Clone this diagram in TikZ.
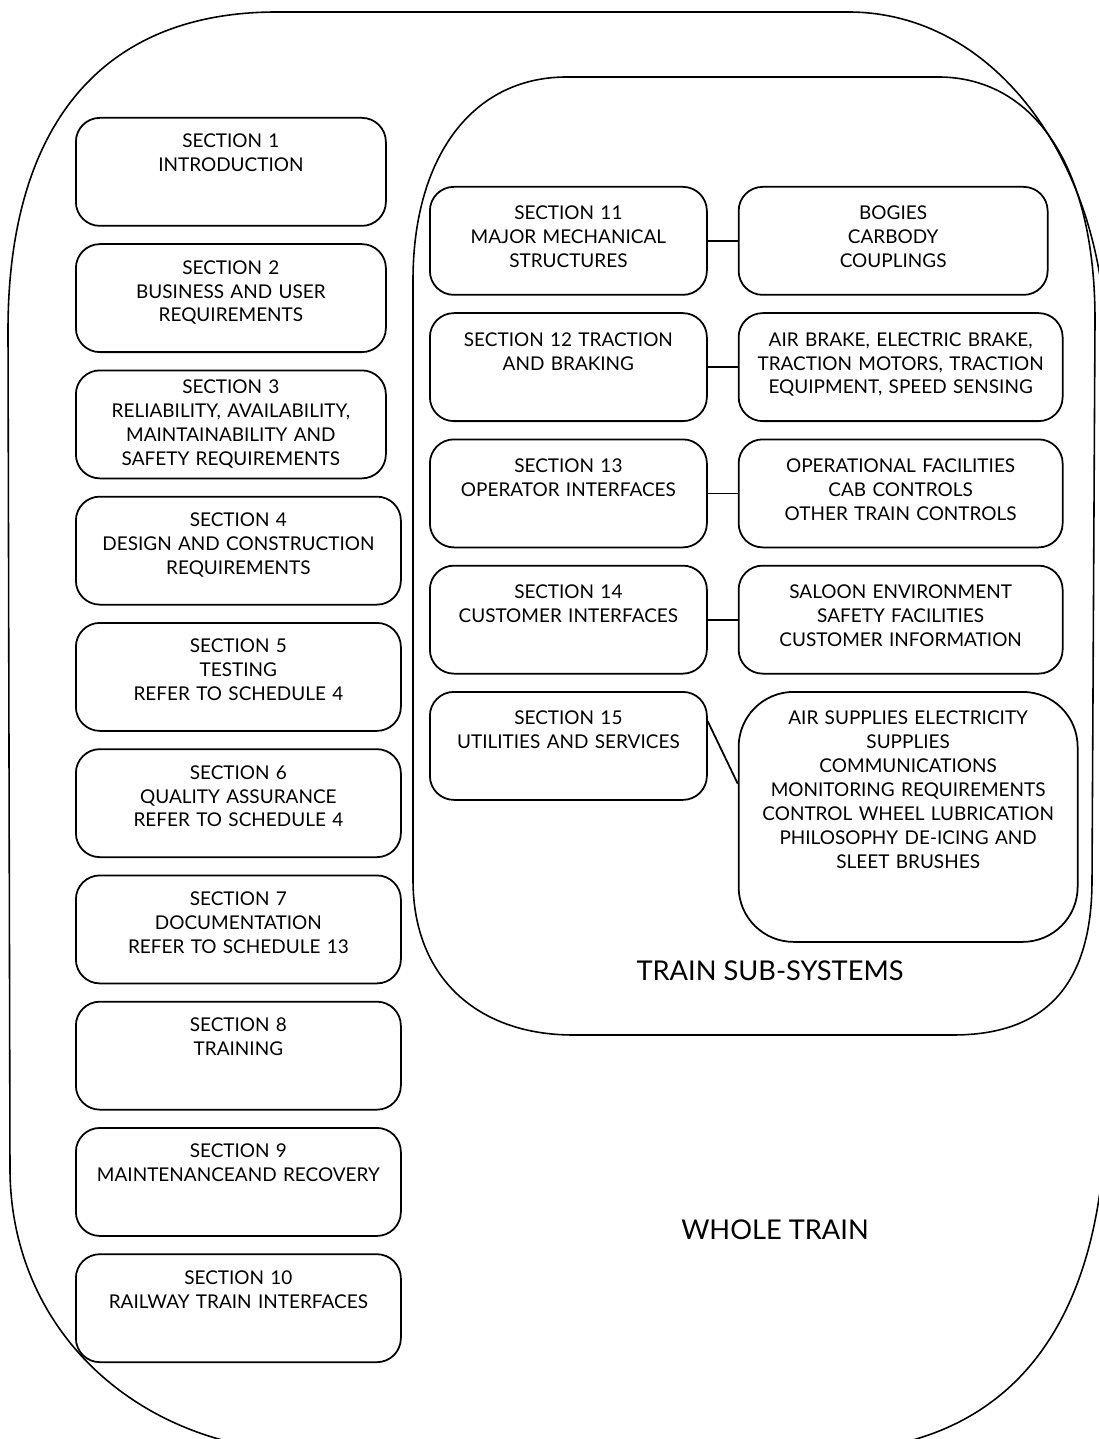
\documentclass[tikz,border=0pt]{standalone}
\usepackage{fontspec}
\setmainfont{Lato}
\usepackage{tikz}
\usetikzlibrary{positioning}

\tikzset{
  sec/.style={draw, line width=1pt, rounded corners=0.48cm, inner sep=0pt, align=center,
    text width=#1, text height=0.6cm, text depth=1.56cm, font=\fontsize{10.8}{13.6}\selectfont},
  sub/.style={sec=#1, text height=0.66cm, text depth=1.5cm},
  link/.style={line width=1pt},
  region/.style={line width=0.9pt},
  title/.style={font=\fontsize{15.5}{18}\selectfont}
}

\begin{document}
\begin{tikzpicture}
\useasboundingbox (0,0) rectangle (21.96,28.78);

% Whole train outline (runs off the page at the bottom)
\draw[region] (16.6,-0.26) .. controls (20.3,-0.16) and (22.12,2.38) .. (22.12,6.78)
  -- (22.12,21.78) .. controls (22.12,25.38) and (20.0,28.54) .. (16.96,28.54)
  -- (5.54,28.54) .. controls (1.8,28.54) and (0.16,25.98) .. (0.16,22.18)
  -- (0.2,5.34) .. controls (0.24,2.18) and (2.7,-0.12) .. (6.0,-0.26);

% Train sub-systems outline
\draw[region] (11.34,27.24) .. controls (9.4,27.24) and (8.26,25.58) .. (8.26,23.18)
  -- (8.26,11.18) .. controls (8.26,9.18) and (9.6,8.08) .. (11.46,8.08)
  -- (19.06,8.08) .. controls (21.0,8.08) and (21.84,9.18) .. (21.84,11.18)
  -- (21.9,22.38) .. controls (21.9,25.58) and (20.6,27.24) .. (18.76,27.24) -- cycle;

% Sections 1 to 10
\node[sec=6.2cm, anchor=north west] (s1) at (1.5,26.44) {SECTION 1\\INTRODUCTION};
\node[sec=6.2cm, below right=0.33cm and 0cm of s1.south west] (s2) {SECTION 2\\BUSINESS AND USER\\REQUIREMENTS};
\node[sec=6.2cm, text height=0.47cm, text depth=1.69cm, below right=0.33cm and 0cm of s2.south west] (s3) {SECTION 3\\RELIABILITY, AVAILABILITY,\\MAINTAINABILITY AND\\SAFETY REQUIREMENTS};
\node[sec=6.5cm, below right=0.33cm and 0cm of s3.south west] (s4) {SECTION 4\\DESIGN AND CONSTRUCTION\\REQUIREMENTS};
\node[sec=6.5cm, below right=0.33cm and 0cm of s4.south west] (s5) {SECTION 5\\TESTING\\REFER TO SCHEDULE 4};
\node[sec=6.5cm, below right=0.33cm and 0cm of s5.south west] (s6) {SECTION 6\\QUALITY ASSURANCE\\REFER TO SCHEDULE 4};
\node[sec=6.5cm, below right=0.33cm and 0cm of s6.south west] (s7) {SECTION 7\\DOCUMENTATION\\REFER TO SCHEDULE 13};
\node[sec=6.5cm, below right=0.33cm and 0cm of s7.south west] (s8) {SECTION 8\\TRAINING};
\node[sec=6.5cm, below right=0.33cm and 0cm of s8.south west] (s9) {SECTION 9\\MAINTENANCEAND RECOVERY};
\node[sec=6.5cm, below right=0.33cm and 0cm of s9.south west] (s10) {SECTION 10\\RAILWAY TRAIN INTERFACES};

% Sections 11 to 15
\node[sub=5.54cm, anchor=north west] (s11) at (8.58,25.06) {SECTION 11\\MAJOR MECHANICAL\\STRUCTURES};
\node[sub=5.54cm, below right=0.33cm and 0cm of s11.south west] (s12) {SECTION 12 TRACTION\\AND BRAKING};
\node[sub=5.54cm, below right=0.33cm and 0cm of s12.south west] (s13) {SECTION 13\\OPERATOR INTERFACES};
\node[sub=5.54cm, below right=0.33cm and 0cm of s13.south west] (s14) {SECTION 14\\CUSTOMER INTERFACES};
\node[sub=5.54cm, below right=0.33cm and 0cm of s14.south west] (s15) {SECTION 15\\UTILITIES AND SERVICES};

% Contents of each sub-system
\node[sub=6.18cm, right=0.6cm of s11] (bogies) {BOGIES\\CARBODY\\COUPLINGS};
\node[sub=6.48cm, right=0.6cm of s12] (brakes) {AIR BRAKE, ELECTRIC BRAKE,\\TRACTION MOTORS, TRACTION\\EQUIPMENT, SPEED SENSING};
\node[sub=6.48cm, right=0.6cm of s13] (controls) {OPERATIONAL FACILITIES\\CAB CONTROLS\\OTHER TRAIN CONTROLS};
\node[sub=6.48cm, right=0.6cm of s14] (saloon) {SALOON ENVIRONMENT\\SAFETY FACILITIES\\CUSTOMER INFORMATION};
\node[sub=6.78cm, rounded corners=1.1cm, text depth=4.34cm, below right=0cm and 0.6cm of s15.north east] (utils) {AIR SUPPLIES ELECTRICITY\\SUPPLIES\\COMMUNICATIONS\\MONITORING REQUIREMENTS\\CONTROL WHEEL LUBRICATION\\PHILOSOPHY DE-ICING AND\\SLEET BRUSHES};

\draw[link] (s11) -- (bogies);
\draw[link] (s12) -- (brakes);
\draw[link] (s13) -- (controls);
\draw[link] (s14) -- (saloon);
\draw[link] (s15.10) -- (utils.169);

% Region names
\node[title] (subsys) at (15.4,9.36) {TRAIN SUB-SYSTEMS};
\node[title] (whole) at (15.5,4.18) {WHOLE TRAIN};
\end{tikzpicture}
\end{document}
